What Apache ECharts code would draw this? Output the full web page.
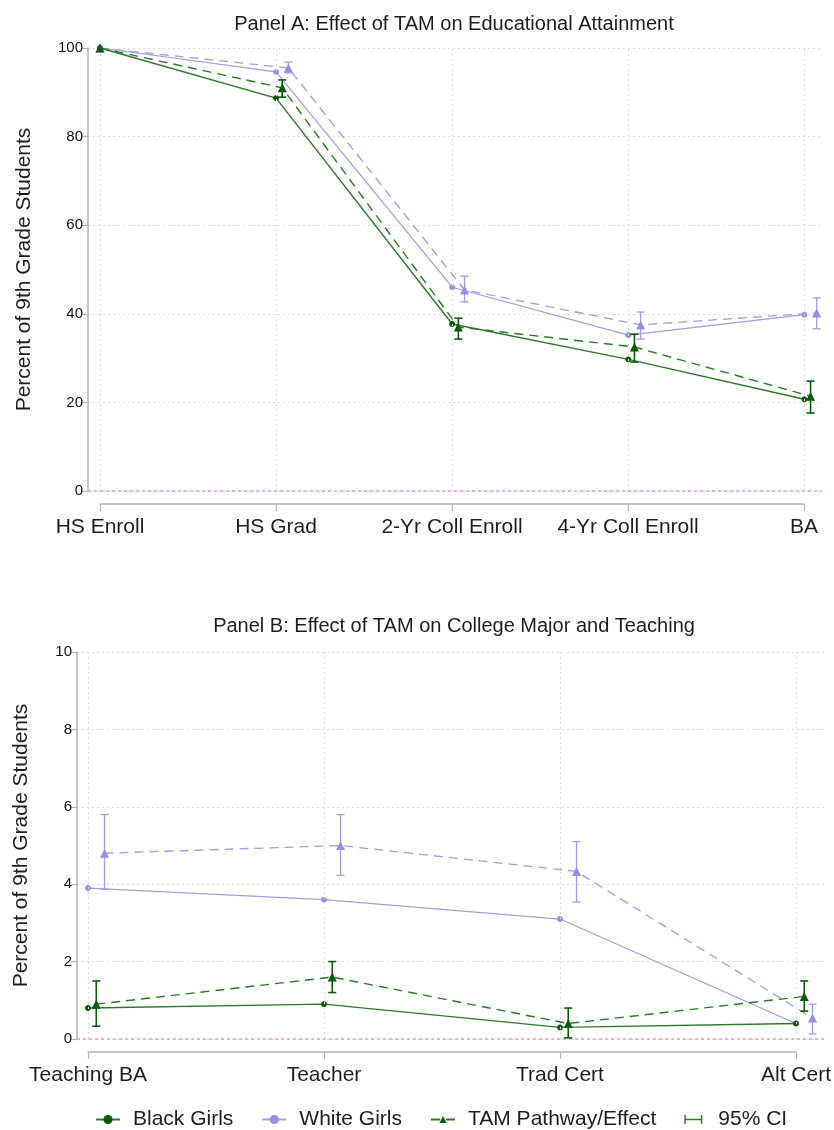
<!DOCTYPE html>
<html><head><meta charset="utf-8">
<script src="https://cdn.jsdelivr.net/npm/echarts@6/dist/echarts.min.js"></script>
<style>html,body{margin:0;padding:0;background:#fff}#c{width:834px;height:1130px}</style>
</head><body><div id="c"></div>
<script>
// ---------- Panel A data ----------
const catsA = ['HS Enroll', 'HS Grad', '2-Yr Coll Enroll', '4-Yr Coll Enroll', 'BA'];
const blackA = [100, 88.7, 37.7, 29.7, 20.7];
const whiteA = [100, 94.6, 46.0, 35.2, 39.8];
const tamBlackA = [100, 91.0, 37.0, 32.5, 21.4];
const tamBlackLoA = [null, 88.9, 34.3, 29.1, 17.6];
const tamBlackHiA = [null, 92.8, 39.0, 35.4, 24.8];
const tamWhiteA = [100, 95.5, 45.4, 37.5, 40.2];
const tamWhiteLoA = [null, 94.4, 42.7, 34.3, 36.6];
const tamWhiteHiA = [null, 96.8, 48.5, 40.4, 43.6];
const yTicksA = [0, 20, 40, 60, 80, 100];

// ---------- Panel B data ----------
const catsB = ['Teaching BA', 'Teacher', 'Trad Cert', 'Alt Cert'];
const blackB = [0.8, 0.9, 0.3, 0.4];
const whiteB = [3.9, 3.6, 3.1, 0.4];
const tamBlackB = [0.9, 1.6, 0.4, 1.1];
const tamBlackLoB = [0.33, 1.2, 0.03, 0.72];
const tamBlackHiB = [1.5, 2.0, 0.8, 1.5];
const tamWhiteB = [4.8, 5.0, 4.33, 0.54];
const tamWhiteLoB = [3.87, 4.23, 3.54, 0.13];
const tamWhiteHiB = [5.8, 5.8, 5.1, 0.9];
const yTicksB = [0, 2, 4, 6, 8, 10];

const titleA = 'Panel A: Effect of TAM on Educational Attainment';
const titleB = 'Panel B: Effect of TAM on College Major and Teaching';
const yName = 'Percent of 9th Grade Students';
const legendNames = ['Black Girls', 'White Girls', 'TAM Pathway/Effect', '95% CI'];

// ---------- styling ----------
const FONT = '"Liberation Sans", Arial, Helvetica, sans-serif';
const GREEN = '#2a7a2a', GREEN_M = '#0b5b0b', LAV = '#a39be6', LAV_M = '#978ee3';
const PINK = '#e6a3c6', GRID = '#dcdcdc', AXIS = '#b3b3b3', TXT = '#1e1e1e';
const SG = 0.035, SW = 0.07; // horizontal offsets of TAM estimates (category units)

function pts(vals, shift) { return vals.map((v, i) => [i + shift, v]); }
// estimates without a confidence interval are not offset
function tamPts(vals, lo, shift) { return vals.map((v, i) => [i + (lo[i] == null ? 0 : shift), v]); }
function ciData(lo, hi, shift) {
  const out = [];
  lo.forEach((l, i) => { if (l != null) out.push([i + shift, l, hi[i]]); });
  return out;
}
function ciRender(color, lw) {
  return function (params, api) {
    const x = api.value(0);
    const a = api.coord([x, api.value(1)]);
    const b = api.coord([x, api.value(2)]);
    const w = 4;
    const st = { stroke: color, lineWidth: lw };
    return { type: 'group', children: [
      { type: 'line', shape: { x1: a[0], y1: a[1], x2: b[0], y2: b[1] }, style: st },
      { type: 'line', shape: { x1: a[0] - w, y1: a[1], x2: a[0] + w, y2: a[1] }, style: st },
      { type: 'line', shape: { x1: b[0] - w, y1: b[1], x2: b[0] + w, y2: b[1] }, style: st }
    ]};
  };
}

function panelSeries(g, cats, black, white, tamB, tamBLo, tamBHi, tamW, tamWLo, tamWHi) {
  return [
    { name: 'White Girls', type: 'line', xAxisIndex: g, yAxisIndex: g, data: pts(white, 0),
      symbol: 'circle', symbolSize: 5, lineStyle: { color: LAV, width: 1.2 },
      itemStyle: { color: LAV_M, borderColor: LAV_M, borderWidth: 1 },
      z: 3, clip: false,
      markLine: { silent: true, symbol: 'none', label: { show: false }, animation: false,
        lineStyle: { color: GRID, type: [2, 3], width: 1 },
        data: cats.map((c, i) => ({ xAxis: i })) } },
    { name: 'Black Girls', type: 'line', xAxisIndex: g, yAxisIndex: g, data: pts(black, 0),
      symbol: 'circle', symbolSize: 5, lineStyle: { color: GREEN, width: 1.4 },
      itemStyle: { color: GREEN_M, borderColor: GREEN_M, borderWidth: 1 },
      z: 4, clip: false,
      markLine: { silent: true, symbol: 'none', label: { show: false }, animation: false,
        lineStyle: { color: PINK, type: [3, 3], width: 1.6 }, data: [{ yAxis: 0 }] } },
    { name: 'TAM White', type: 'line', xAxisIndex: g, yAxisIndex: g, data: tamPts(tamW, tamWLo, SW),
      symbol: 'triangle', symbolSize: 9, lineStyle: { color: LAV, width: 1.3, type: [9, 6] },
      itemStyle: { color: LAV_M, borderWidth: 0 },
      z: 5, clip: false },
    { name: 'CI White', type: 'custom', xAxisIndex: g, yAxisIndex: g, data: ciData(tamWLo, tamWHi, SW),
      renderItem: ciRender(LAV, 1.3), itemStyle: { color: LAV }, encode: { x: 0, y: [1, 2] }, z: 5, clip: false },
    { name: 'TAM Pathway/Effect', type: 'line', xAxisIndex: g, yAxisIndex: g, data: tamPts(tamB, tamBLo, SG),
      symbol: 'triangle', symbolSize: 9, lineStyle: { color: GREEN, width: 1.4, type: [9, 6] },
      itemStyle: { color: GREEN_M, borderWidth: 0 },
      z: 6, clip: false },
    { name: '95% CI', type: 'custom', xAxisIndex: g, yAxisIndex: g, data: ciData(tamBLo, tamBHi, SG),
      renderItem: ciRender(GREEN_M, 1.6), itemStyle: { color: GREEN }, encode: { x: 0, y: [1, 2] }, z: 6, clip: false }
  ];
}

function yAxisCfg(g, ticks) {
  return { gridIndex: g, type: 'value', min: ticks[0], max: ticks[ticks.length - 1],
    interval: ticks[1] - ticks[0],
    name: yName, nameLocation: 'middle', nameRotate: 90, nameGap: g === 0 ? 53 : 45,
    nameTextStyle: { fontFamily: FONT, fontSize: 21, color: TXT },
    axisLine: { show: true, onZero: false, lineStyle: { color: AXIS, width: 1.5 } },
    axisTick: { show: true, length: 6, lineStyle: { color: AXIS, width: 1.2 } },
    axisLabel: { fontFamily: FONT, fontSize: 15, color: '#111', margin: 5 },
    splitLine: { show: true, lineStyle: { color: GRID, type: [2, 3], width: 1 } } };
}
function catAxisCfg(g, cats) {
  return { gridIndex: g, type: 'category', data: cats, boundaryGap: false,
    axisLine: { show: true, onZero: false, lineStyle: { color: AXIS, width: 1.5 } },
    axisTick: { show: true, length: 7, alignWithLabel: true, lineStyle: { color: AXIS, width: 1.2 } },
    axisLabel: { fontFamily: FONT, fontSize: 21, color: TXT, margin: 13, interval: 0 },
    splitLine: { show: false } };
}

const chart = echarts.init(document.getElementById('c'), null, { renderer: 'canvas' });
chart.setOption({
  backgroundColor: '#fff',
  animation: false,
  title: [
    { text: titleA, left: 449, top: 9, textAlign: 'center',
      textStyle: { fontFamily: FONT, fontSize: 20, fontWeight: 'normal', color: TXT } },
    { text: titleB, left: 449, top: 611, textAlign: 'center',
      textStyle: { fontFamily: FONT, fontSize: 20, fontWeight: 'normal', color: TXT } }
  ],
  legend: {
    top: 1104, left: 90, itemGap: 28, itemWidth: 24, itemHeight: 9,
    textStyle: { fontFamily: FONT, fontSize: 21, color: TXT, padding: [0, 0, 0, 8] },
    data: legendNames.map(n => n === '95% CI'
      ? { name: n, icon: 'path://M0,0h1.6v10h-1.6z M1.6,4.2h16.8v1.6h-16.8z M18.4,0h1.6v10h-1.6z' }
      : { name: n })
  },
  grid: [
    { left: 88, right: 12, top: 48, height: 443 },
    { left: 77, right: 9, top: 652, height: 387 },
    { left: 100, width: 704, top: 503, height: 1 },
    { left: 88, width: 708, top: 1051, height: 1 }
  ],
  xAxis: [
    { gridIndex: 0, type: 'value', min: -0.068, max: 4.1, show: false },
    { gridIndex: 1, type: 'value', min: -0.0466, max: 3.123, show: false },
    catAxisCfg(2, catsA),
    catAxisCfg(3, catsB)
  ],
  yAxis: [
    yAxisCfg(0, yTicksA),
    yAxisCfg(1, yTicksB),
    { gridIndex: 2, show: false },
    { gridIndex: 3, show: false }
  ],
  series: [].concat(
    panelSeries(0, catsA, blackA, whiteA, tamBlackA, tamBlackLoA, tamBlackHiA, tamWhiteA, tamWhiteLoA, tamWhiteHiA),
    panelSeries(1, catsB, blackB, whiteB, tamBlackB, tamBlackLoB, tamBlackHiB, tamWhiteB, tamWhiteLoB, tamWhiteHiB)
  )
});
</script>
</body></html>
